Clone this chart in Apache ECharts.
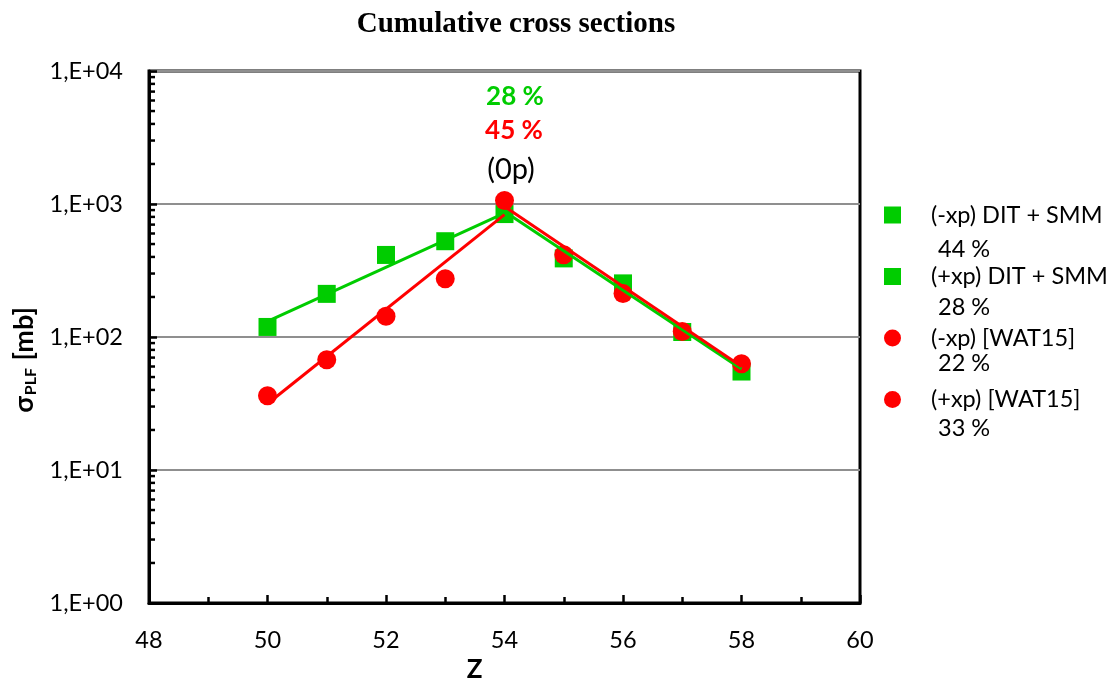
<!DOCTYPE html>
<html>
<head>
<meta charset="utf-8">
<title>Cumulative cross sections</title>
<script src="https://cdn.jsdelivr.net/npm/echarts@6/dist/echarts.min.js"></script>
<style>
  html, body { margin: 0; padding: 0; background: #fff; }
  #chart { width: 1111px; height: 678px; }
</style>
</head>
<body>
<div id="chart"></div>
<script>
// Measured cumulative cross sections (mb) versus proton number Z
const zMinus = [50, 51, 52, 53];
const zZero = [54];
const zPlus = [55, 56, 57, 58];

const ditMinus = [119, 211, 414, 525];
const ditZero = [840];
const ditPlus = [390, 253, 109, 55];

const watMinus = [36.2, 67.5, 143, 274];
const watZero = [1064];
const watPlus = [416, 212, 110, 63];

// Exponential trend lines (end points of each branch)
const ditFitMinusZ = [50, 54];
const ditFitMinus = [131, 855];
const ditFitPlusZ = [54, 58];
const ditFitPlus = [880, 57.4];
const watFitMinusZ = [50, 54];
const watFitMinus = [31.5, 832];
const watFitPlusZ = [54, 58];
const watFitPlus = [959, 60];

// Legend entries and their deviation figures
const legendNames = ['(-xp) DIT + SMM', '(+xp) DIT + SMM', '(-xp) [WAT15]', '(+xp) [WAT15]'];
const legendPercents = ['44 %', '28 %', '22 %', '33 %'];
const peakPercents = ['28 %', '45 %'];

// Axis tick labels and log-scale minor tick multipliers
const yTickLabels = ['1,E+00', '1,E+01', '1,E+02', '1,E+03', '1,E+04'];
const minorMultipliers = [2, 3, 4, 5, 6, 7, 8, 9];
const decades = [1, 10, 100, 1000];

const GREEN = '#00cc00';
const RED = '#ff0000';
const FONT = 'Lato';
const LABEL_SIZE = 23.5;

const pairs = (xs, ys) => xs.map((x, i) => [x, ys[i]]);

const minorTickValues = [];
decades.forEach(d => minorMultipliers.forEach(m => minorTickValues.push([48, m * d])));

const chart = echarts.init(document.getElementById('chart'), null, { renderer: 'canvas' });

const legendTop = 203;
const legendStep = 61.5;

const pctText = (text, y) => ({
  type: 'text', x: 938, y: y, silent: true,
  style: { text: text, fill: '#000', font: LABEL_SIZE + 'px ' + FONT, verticalAlign: 'middle' }
});

const option = {
  animation: false,
  backgroundColor: '#fff',
  title: {
    text: 'Cumulative cross sections',
    left: 511,
    top: 5,
    textAlign: 'center',
    textStyle: { fontFamily: 'Liberation Serif', fontWeight: 'bold', fontSize: 29, color: '#000' }
  },
  grid: {
    left: 149, right: 251, top: 71, bottom: 75,
    outerBoundsMode: 'none',
    show: true, borderColor: '#000', borderWidth: 3, backgroundColor: 'transparent'
  },
  legend: {
    orient: 'vertical',
    left: 884,
    top: legendTop,
    padding: 0,
    itemWidth: 17,
    itemHeight: 17,
    itemGap: legendStep - 24,
    data: [
      { name: legendNames[0], icon: 'rect' },
      { name: legendNames[1], icon: 'rect' },
      { name: legendNames[2], icon: 'circle' },
      { name: legendNames[3], icon: 'circle' }
    ],
    textStyle: { fontFamily: FONT, fontSize: LABEL_SIZE, color: '#000', lineHeight: 24, padding: [0, 0, 0, 25] },
    selectedMode: false
  },
  xAxis: {
    type: 'value',
    min: 48, max: 60, interval: 2,
    name: 'Z',
    nameLocation: 'middle',
    nameGap: 47,
    nameTextStyle: { fontFamily: FONT, fontWeight: 'bold', fontSize: 26, color: '#000', padding: [0, 60, 0, 0] },
    axisLine: { show: true, lineStyle: { color: '#000', width: 3 } },
    axisTick: { show: true, inside: true, length: 8, lineStyle: { color: '#000', width: 2.5 } },
    minorTick: { show: true, splitNumber: 2, length: 6, lineStyle: { color: '#000', width: 2.5 } },
    axisLabel: { fontFamily: FONT, fontSize: LABEL_SIZE, color: '#000', margin: 25 },
    splitLine: { show: false }
  },
  yAxis: {
    type: 'log',
    logBase: 10,
    min: 1, max: 10000,
    name: '{a|σ}{s|PLF}{a| [mb]}',
    nameLocation: 'middle',
    nameRotate: 90,
    nameGap: 108,
    nameTextStyle: {
      padding: [0, 46, 0, 0],
      rich: {
        a: { fontFamily: FONT, fontWeight: 'bold', fontSize: 27, color: '#000' },
        s: { fontFamily: FONT, fontWeight: 'bold', fontSize: 16, color: '#000', padding: [13, 1, 0, 1] }
      }
    },
    axisLine: { show: true, lineStyle: { color: '#000', width: 3 } },
    axisTick: { show: true, inside: true, length: 8, lineStyle: { color: '#000', width: 2.5 } },
    axisLabel: {
      fontFamily: FONT, fontSize: LABEL_SIZE, color: '#000', margin: 26,
      formatter: v => yTickLabels[Math.round(Math.log10(v))]
    },
    splitLine: { show: true, lineStyle: { color: '#8f8f8f', width: 2 } }
  },
  graphic: [
    { type: 'text', x: 515, y: 97, silent: true,
      style: { text: peakPercents[0], fill: GREEN, font: 'bold 26px ' + FONT, align: 'center', verticalAlign: 'middle' } },
    { type: 'text', x: 514, y: 131, silent: true,
      style: { text: peakPercents[1], fill: RED, font: 'bold 26px ' + FONT, align: 'center', verticalAlign: 'middle' } },
    { type: 'text', x: 511, y: 170, silent: true,
      style: { text: '(0p)', fill: '#000', font: '29px ' + FONT, align: 'center', verticalAlign: 'middle' } },
    pctText(legendPercents[0], 249),
    pctText(legendPercents[1], 307),
    pctText(legendPercents[2], 363),
    pctText(legendPercents[3], 428)
  ],
  series: [
    {
      // log-scale minor ticks (2..9 per decade) along the left axis
      type: 'custom',
      silent: true,
      clip: false,
      z: 5,
      data: minorTickValues,
      renderItem: (params, api) => {
        const p = api.coord([api.value(0), api.value(1)]);
        return {
          type: 'line',
          shape: { x1: p[0], y1: p[1], x2: p[0] + 6, y2: p[1] },
          style: { stroke: '#000', lineWidth: 2.5 }
        };
      }
    },
    { name: legendNames[0], type: 'scatter', symbol: 'rect', symbolSize: 18, itemStyle: { color: GREEN, opacity: 1 }, z: 2, data: pairs(zMinus, ditMinus) },
    { name: legendNames[1], type: 'scatter', symbol: 'rect', symbolSize: 18, itemStyle: { color: GREEN, opacity: 1 }, z: 2, data: pairs(zPlus, ditPlus) },
    { name: '(0p) DIT + SMM', type: 'scatter', symbol: 'rect', symbolSize: 18, itemStyle: { color: GREEN, opacity: 1 }, z: 2, data: pairs(zZero, ditZero) },
    { name: legendNames[2], type: 'scatter', symbol: 'circle', symbolSize: 19, itemStyle: { color: RED, opacity: 1 }, z: 3, data: pairs(zMinus, watMinus) },
    { name: legendNames[3], type: 'scatter', symbol: 'circle', symbolSize: 19, itemStyle: { color: RED, opacity: 1 }, z: 3, data: pairs(zPlus, watPlus) },
    { name: '(0p) [WAT15]', type: 'scatter', symbol: 'circle', symbolSize: 19, itemStyle: { color: RED, opacity: 1 }, z: 3, data: pairs(zZero, watZero) },
    { name: 'DIT + SMM trend (-xp)', type: 'line', showSymbol: false, symbol: 'none', z: 4, lineStyle: { color: GREEN, width: 3 }, data: pairs(ditFitMinusZ, ditFitMinus) },
    { name: 'DIT + SMM trend (+xp)', type: 'line', showSymbol: false, symbol: 'none', z: 4, lineStyle: { color: GREEN, width: 3 }, data: pairs(ditFitPlusZ, ditFitPlus) },
    { name: 'WAT15 trend (-xp)', type: 'line', showSymbol: false, symbol: 'none', z: 4, lineStyle: { color: RED, width: 3 }, data: pairs(watFitMinusZ, watFitMinus) },
    { name: 'WAT15 trend (+xp)', type: 'line', showSymbol: false, symbol: 'none', z: 4, lineStyle: { color: RED, width: 3 }, data: pairs(watFitPlusZ, watFitPlus) }
  ]
};

chart.setOption(option);
</script>
</body>
</html>
